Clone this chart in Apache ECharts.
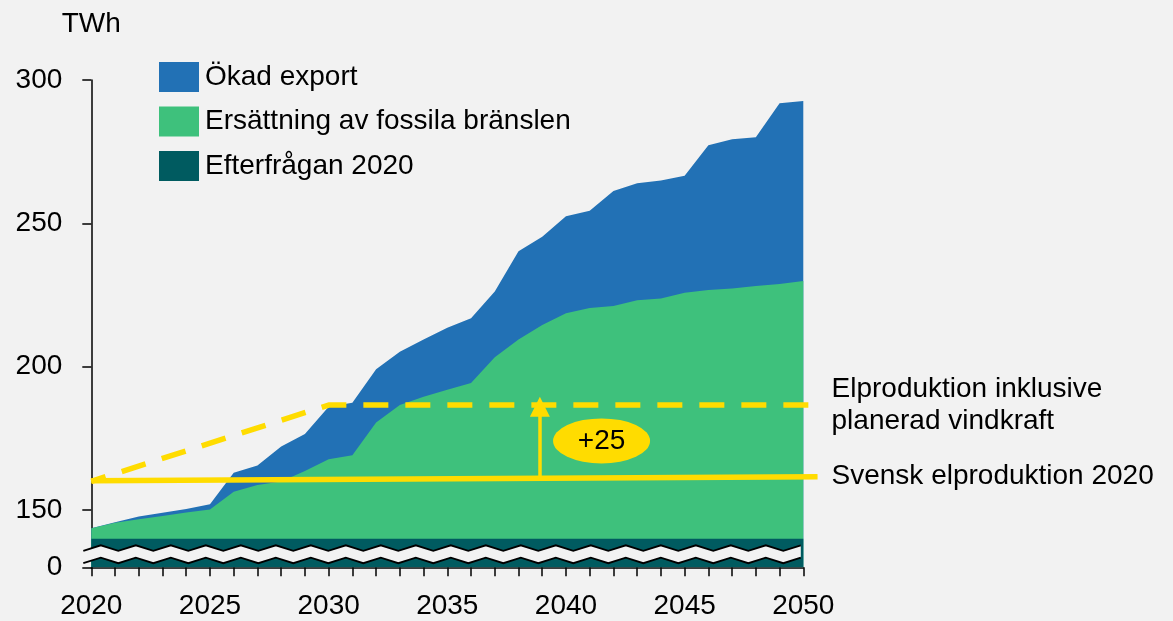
<!DOCTYPE html>
<html><head><meta charset="utf-8">
<script src="https://cdn.jsdelivr.net/npm/echarts@6/dist/echarts.min.js"></script>
<style>html,body{margin:0;padding:0;background:#f2f2f2}#c{width:1173px;height:621px}</style>
</head><body><div id="c"></div>
<script>
const years = [2020,2021,2022,2023,2024,2025,2026,2027,2028,2029,2030,2031,2032,2033,2034,2035,2036,2037,2038,2039,2040,2041,2042,2043,2044,2045,2046,2047,2048,2049,2050];
const demand2020 = [140,140,140,140,140,140,140,140,140,140,140,140,140,140,140,140,140,140,140,140,140,140,140,140,140,140,140,140,140,140,140];
const fossilReplacement = [3.6,5.5,6.8,7.9,9.1,10.2,16.4,18.7,19.9,23.6,27.7,29.1,40.5,46.6,49.5,51.9,54.3,63.3,69.5,74.5,78.6,80.5,81.2,83.2,83.8,85.8,86.7,87.3,88.1,88.8,89.9];
const increasedExport = [0,0.2,0.9,1.1,1.2,1.8,6.6,6.8,12.2,12.9,18.3,18.3,18.6,18.6,20.0,21.7,22.6,22.9,30.8,30.8,33.9,33.9,40.1,40.8,41.1,40.8,50.5,52.0,51.9,63.1,62.8];
const seriesNames = ['Efterfrågan 2020','Ersättning av fossila bränslen','Ökad export'];
const legendOrder = ['Ökad export','Ersättning av fossila bränslen','Efterfrågan 2020'];
const yTickValues = [130,150,200,250,300];
const yTickLabels = ['0','150','200','250','300'];
const prod2020Years = [2020, 2050.6];
const prod2020Values = [160.2, 161.6];
const prod2020Label = 'Svensk elproduktion 2020';
const plannedYears = [2020, 2030, 2050.6];
const plannedValues = [160.0, 186.6, 186.6];
const plannedLabel = 'Elproduktion inklusive\nplanerad vindkraft';
const arrowYear = 2038.9;
const arrowFrom = 161.1;
const arrowTo = 186.0;
const bubbleYear = 2041.5;
const bubbleValue = 174.1;
const bubbleText = '+25';
const breakLow = 132.4, breakHigh = 136.7;

const FONT = '"Liberation Sans", Arial, sans-serif';
const FS = 28;
const colors = ['#005b60','#3ec17c','#2271b5'];
const YELLOW = '#ffdc00';
const chart = echarts.init(document.getElementById('c'));

// cumulative tops of the stacked layers (drawn back to front, each filled to the axis minimum)
const layers = [demand2020, fossilReplacement, increasedExport];
const cumulative = [];
layers.forEach((arr, k) => {
  cumulative.push(arr.map((v, i) => v + (k > 0 ? cumulative[k - 1][i] : 0)));
});
const areaSeries = [2, 1, 0].map(k => ({
  name: seriesNames[k], type: 'line', symbol: 'none',
  data: years.map((y, i) => [y, cumulative[k][i]]),
  lineStyle: {width: 0}, itemStyle: {color: colors[k]},
  areaStyle: {color: colors[k], opacity: 1}, z: 2
}));

const extX = prod2020Years[prod2020Years.length - 1];
const pxPerYear = (803.3 - 91.3) / 30;

chart.setOption({
  animation: false,
  backgroundColor: '#f2f2f2',
  textStyle: {fontFamily: FONT},
  grid: [
    {left: 91.3, right: 369.7, top: 80, bottom: 53.7, containLabel: false},
    {left: 91.3, right: 369.7 - (extX - 2050) * pxPerYear, top: 80, bottom: 53.7, containLabel: false}
  ],
  legend: {
    data: legendOrder, orient: 'vertical', left: 154, top: 57,
    itemWidth: 40, itemHeight: 30, itemGap: 14.5, icon: 'rect',
    textStyle: {fontSize: FS, color: '#000', fontFamily: FONT, padding: [0, 0, 0, 1]},
    selectedMode: false
  },
  xAxis: [{
    type: 'value', min: 2020, max: 2050, interval: 5, gridIndex: 0,
    axisLine: {show: true, lineStyle: {color: '#000', width: 1.5}},
    axisTick: {show: true, length: 9, lineStyle: {color: '#000', width: 1.5}},
    minorTick: {show: true, splitNumber: 5, length: 9, lineStyle: {color: '#000', width: 1.5}},
    axisLabel: {fontSize: FS, color: '#000', margin: 25, fontFamily: FONT, formatter: v => String(v)},
    splitLine: {show: false}, minorSplitLine: {show: false}
  }, {
    type: 'value', min: 2020, max: extX, gridIndex: 1, show: false
  }],
  yAxis: [{
    type: 'value', min: 130, max: 300, gridIndex: 0,
    name: 'TWh', nameLocation: 'end', nameGap: 42,
    nameTextStyle: {fontSize: FS, color: '#000', fontFamily: FONT, align: 'center'},
    axisLine: {show: true, lineStyle: {color: '#000', width: 1.5}},
    axisTick: {show: true, length: 9, customValues: yTickValues, lineStyle: {color: '#000', width: 1.5}},
    axisLabel: {fontSize: FS, color: '#000', margin: 29, fontFamily: FONT,
      customValues: yTickValues,
      formatter: v => yTickLabels[yTickValues.indexOf(v)]},
    splitLine: {show: false}
  }, {
    type: 'value', min: 130, max: 300, gridIndex: 1, show: false
  }],
  series: areaSeries.concat([
    {
      type: 'line', symbol: 'none', z: 5, xAxisIndex: 1, yAxisIndex: 1,
      data: prod2020Years.map((y, i) => [y, prod2020Values[i]]),
      lineStyle: {color: YELLOW, width: 5.5},
      endLabel: {show: true, formatter: prod2020Label, distance: 14, fontSize: FS, color: '#000', fontFamily: FONT}
    },
    {
      type: 'line', symbol: 'none', z: 5, xAxisIndex: 1, yAxisIndex: 1,
      data: plannedYears.map((y, i) => [y, plannedValues[i]]),
      lineStyle: {color: YELLOW, width: 5.5, type: [25, 17], dashOffset: 10},
      endLabel: {show: true, formatter: plannedLabel, distance: 14, fontSize: FS, lineHeight: 32, color: '#000', fontFamily: FONT}
    },
    {
      type: 'lines', coordinateSystem: 'cartesian2d', z: 6,
      symbol: ['none', 'triangle'], symbolSize: 20,
      lineStyle: {color: YELLOW, width: 3.5, opacity: 1},
      data: [{coords: [[arrowYear, arrowFrom], [arrowYear, arrowTo]]}]
    },
    {
      type: 'scatter', z: 7,
      symbol: 'path://M0,50 A50,50 0 1,1 100,50 A50,50 0 1,1 0,50z',
      symbolSize: [97, 45],
      itemStyle: {color: YELLOW, opacity: 1},
      data: [[bubbleYear, bubbleValue]],
      label: {show: true, position: 'inside', formatter: bubbleText, fontSize: 28, color: '#000', fontFamily: FONT}
    }
  ])
});

// axis-break zigzag
const pL = chart.convertToPixel({gridIndex: 0}, [2020, breakHigh]);
const pR = chart.convertToPixel({gridIndex: 0}, [2050, breakLow]);
const yHi = pL[1], yLo = pR[1];
const x0 = pL[0] - 8, x1 = pR[0] + 8;
const half = 17.5, amp = 2.8;
const upper = [], lower = [];
let k = 0;
for (let x = x0; x <= x1 + 0.1; x += half, k++) {
  const s = (k % 2 === 0) ? amp : -amp;
  upper.push([x, yHi + s]);
  lower.push([x, yLo + s]);
}
const poly = upper.concat(lower.slice().reverse());
chart.setOption({
  graphic: [
    {type: 'polygon', shape: {points: poly}, style: {fill: '#f2f2f2'}, z: 100, silent: true},
    {type: 'polyline', shape: {points: upper}, style: {stroke: '#000', lineWidth: 1.8, fill: null}, z: 101, silent: true},
    {type: 'polyline', shape: {points: lower}, style: {stroke: '#000', lineWidth: 1.8, fill: null}, z: 101, silent: true}
  ]
});
</script></body></html>
